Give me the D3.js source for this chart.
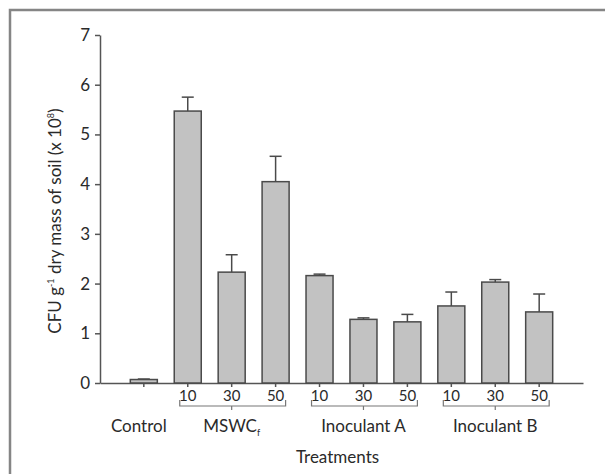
<!DOCTYPE html>
<html>
<head>
<meta charset="utf-8">
<script src="https://cdn.jsdelivr.net/npm/d3@7"></script>
<style>
    body { margin: 0; background: #fff; }
    text { font-family: Lato, "Open Sans", sans-serif; fill: #2a2a2a; }
    .axis path, .axis line { stroke: #555; stroke-width: 1.5; }
    .bar { fill: #c2c2c2; stroke: #4a4a4a; stroke-width: 1.5; }
    .err { stroke: #4a4a4a; stroke-width: 1.5; fill: none; }
    .bracket { stroke: #777; stroke-width: 1.2; fill: none; }
</style>
</head>
<body>
<div id="chart"></div>
<script>
// bars, left to right
let categories = ["Control", "M10", "M30", "M50", "A10", "A30", "A50", "B10", "B30", "B50"];
let tickLabels = ["", "10", "30", "50", "10", "30", "50", "10", "30", "50"];
let means = [0.07, 5.47, 2.23, 4.05, 2.16, 1.28, 1.23, 1.55, 2.03, 1.43];
let errTops = [0.08, 5.75, 2.58, 4.56, 2.19, 1.31, 1.38, 1.83, 2.08, 1.79];
let groupNames = ["MSWC", "Inoculant A", "Inoculant B"];
let groupMembers = [["M10", "M30", "M50"], ["A10", "A30", "A50"], ["B10", "B30", "B50"]];
let yTicks = [0, 1, 2, 3, 4, 5, 6, 7];

let margin = {top: 35, right: 22, left: 100, bottom: 91};
let width = 605 - margin.left - margin.right;
let height = 474 - margin.top - margin.bottom;

let svg = d3.select("#chart")
    .append("svg")
    .attr("width", 605)
    .attr("height", 474);

// gray frame, open on the right and bottom
svg.append("path")
    .attr("d", "M10,480 L10,10 L610,10")
    .attr("fill", "none")
    .attr("stroke", "#858585")
    .attr("stroke-width", 2.5);

let chart = svg.append("g")
    .attr("transform", "translate(" + margin.left + ", " + margin.top + ")");

let x = d3.scaleBand()
    .domain(categories)
    .range([0, width])
    .paddingInner(0.385)
    .paddingOuter(0.69);

let y = d3.scaleLinear()
    .domain([0, 7])
    .range([height, 0]);

let yAxis = d3.axisLeft(y)
    .tickValues(yTicks)
    .tickFormat(d3.format("d"))
    .tickSize(5)
    .tickPadding(5)
    .tickSizeOuter(0);

chart.append("g")
    .attr("class", "axis")
    .call(yAxis)
    .selectAll("text")
    .style("font-size", "17px");

let xAxis = d3.axisBottom(x)
    .tickFormat((d, i) => tickLabels[i])
    .tickSize(4)
    .tickPadding(3)
    .tickSizeOuter(0);

chart.append("g")
    .attr("class", "axis")
    .attr("transform", "translate(0," + height + ")")
    .call(xAxis)
    .selectAll("text")
    .style("font-size", "15px");

chart.selectAll(".bar")
    .data(categories)
    .enter()
    .append("rect")
    .attr("class", "bar")
    .attr("x", (d) => x(d))
    .attr("width", x.bandwidth())
    .attr("y", (d, i) => y(means[i]))
    .attr("height", (d, i) => y(0) - y(means[i]));

let errs = chart.selectAll(".errbar")
    .data(categories)
    .enter()
    .append("g")
    .attr("class", "errbar");

errs.append("line")
    .attr("class", "err")
    .attr("x1", (d) => x(d) + x.bandwidth() / 2)
    .attr("x2", (d) => x(d) + x.bandwidth() / 2)
    .attr("y1", (d, i) => y(means[i]))
    .attr("y2", (d, i) => y(errTops[i]));

errs.append("line")
    .attr("class", "err")
    .attr("x1", (d) => x(d) + x.bandwidth() / 2 - 6)
    .attr("x2", (d) => x(d) + x.bandwidth() / 2 + 6)
    .attr("y1", (d, i) => y(errTops[i]))
    .attr("y2", (d, i) => y(errTops[i]));

// brackets under each treatment group
let groups = chart.selectAll(".grp")
    .data(groupMembers)
    .enter()
    .append("g")
    .attr("class", "grp");

groups.append("path")
    .attr("class", "bracket")
    .attr("d", (d) => {
        let x0 = x(d[0]) + x.bandwidth() / 2 - 8;
        let x1 = x(d[2]) + x.bandwidth() / 2 + 10;
        let xm = x(d[1]) + x.bandwidth() / 2;
        let yb = height + 23;
        return "M" + x0 + "," + (yb - 6) + " L" + x0 + "," + yb + " L" + x1 + "," + yb + " L" + x1 + "," + (yb - 6)
            + " M" + xm + "," + yb + " L" + xm + "," + (yb + 4);
    });

let groupLabels = groups.append("text")
    .attr("x", (d) => x(d[1]) + x.bandwidth() / 2)
    .attr("y", height + 49)
    .attr("text-anchor", "middle")
    .style("font-size", "17px")
    .text((d, i) => groupNames[i]);

groupLabels.filter((d, i) => i == 0)
    .append("tspan")
    .attr("dy", 4)
    .style("font-size", "9px")
    .text("f");

chart.append("text")
    .attr("x", x("Control") + x.bandwidth() / 2 - 5)
    .attr("y", height + 49)
    .attr("text-anchor", "middle")
    .style("font-size", "17px")
    .text("Control");

chart.append("text")
    .attr("x", width / 2 - 4)
    .attr("y", height + 80)
    .attr("text-anchor", "middle")
    .style("font-size", "17px")
    .text("Treatments");

let ylab = chart.append("text")
    .attr("transform", "translate(-39," + (height / 2 + 12) + ") rotate(-90)")
    .attr("text-anchor", "middle")
    .style("font-size", "17px");

ylab.append("tspan").text("CFU g");
ylab.append("tspan").attr("dy", -7).style("font-size", "9px").text("-1");
ylab.append("tspan").attr("dy", 7).text(" dry mass of soil (x 10");
ylab.append("tspan").attr("dy", -7).style("font-size", "9px").text("8");
ylab.append("tspan").attr("dy", 7).text(")");
</script>
</body>
</html>
